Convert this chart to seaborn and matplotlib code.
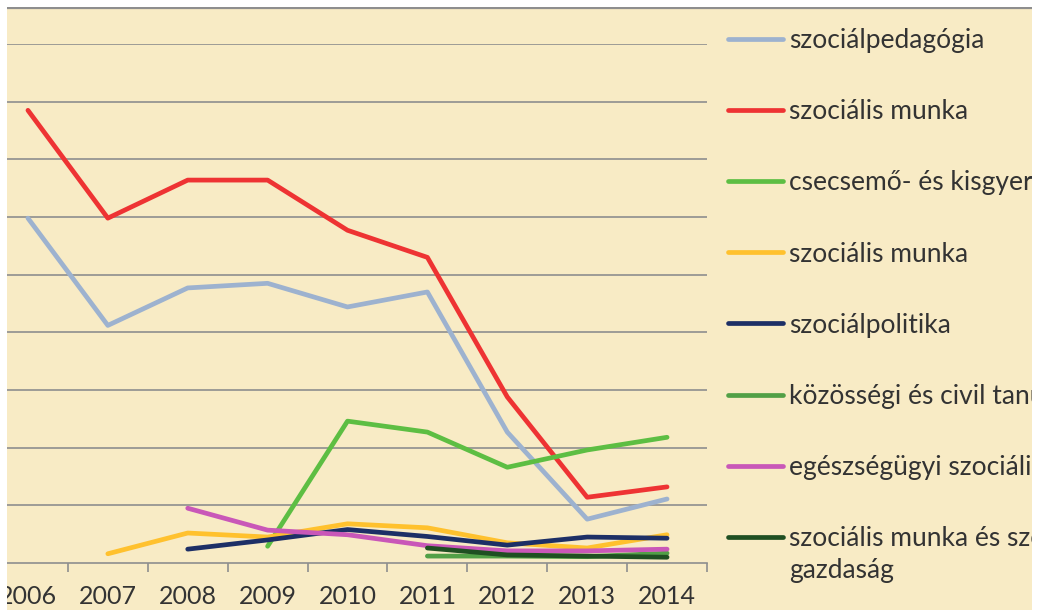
import numpy as np
import pandas as pd
import matplotlib
matplotlib.use("Agg")
import matplotlib.pyplot as plt
from matplotlib.patches import Rectangle
from matplotlib.lines import Line2D
import seaborn as sns

years = [2006, 2007, 2008, 2009, 2010, 2011, 2012, 2013, 2014]
nan = np.nan

szocpedagogia = [59.8, 41.2, 47.7, 48.5, 44.4, 47.0, 22.7, 7.6, 11.1]
szoc_munka = [78.5, 59.8, 66.4, 66.4, 57.7, 53.0, 28.8, 11.4, 13.2]
csecsemo = [nan, nan, nan, 2.9, 24.6, 22.7, 16.6, 19.6, 21.8]
szoc_munka_2 = [nan, 1.6, 5.2, 4.5, 6.8, 6.1, 3.5, 2.6, 4.9]
szocpolitika = [nan, nan, 2.4, 4.0, 5.8, 4.6, 3.1, 4.5, 4.3]
kozossegi = [nan, nan, nan, nan, nan, 1.2, 1.2, 1.1, 1.7]
egeszsegugyi = [nan, nan, 9.5, 5.7, 4.9, 3.0, 2.1, 2.1, 2.4]
szoc_gazdasag = [nan, nan, nan, nan, nan, 2.6, 1.4, 1.2, 1.0]

labels = [
    "szociálpedagógia",
    "szociális munka",
    "csecsemő- és kisgyermeknevelés",
    "szociális munka",
    "szociálpolitika",
    "közösségi és civil tanulmányok",
    "egészségügyi szociális munka",
    "szociális munka és szociális",
]
label_wrap = "gazdaság"   # second line of the last legend entry
series = [szocpedagogia, szoc_munka, csecsemo, szoc_munka_2,
          szocpolitika, kozossegi, egeszsegugyi, szoc_gazdasag]
colors = ["#9DB2CF", "#EE3333", "#5DBE43", "#FFC12E",
          "#1D2F66", "#52A047", "#C957B8", "#1F4F22"]

W, H = 1040, 610
cream = "#F8EBC5"
grey = "#8E8E8E"
txt = "#333333"

sns.set_style("white")
plt.rcParams["font.family"] = ["Lato", "DejaVu Sans"]

fig = plt.figure(figsize=(W / 100, H / 100), dpi=100, facecolor="white")

# chart area background + top border
fig.patches.append(Rectangle((7 / W, 0), (1032 - 7) / W, (H - 9) / H,
                             transform=fig.transFigure, facecolor=cream,
                             edgecolor="none", zorder=0))
fig.lines.append(Line2D([7 / W, 1032 / W], [1 - 8 / H, 1 - 8 / H],
                        transform=fig.transFigure, color=grey, lw=1.6, zorder=1))

ax = fig.add_axes([-12 / W, 1 - 563 / H, 719 / W, (563 - 44) / H])
ax.set_facecolor("none")
ax.set_zorder(2)

for vals, lab, col in zip(series, labels, colors):
    sns.lineplot(x=years, y=vals, color=col, lw=3.4, label=lab, ax=ax)

ax.set_xlim(2005.5, 2014.5)
ax.set_ylim(0, 90)
ax.set_yticks(np.arange(10, 91, 10))
ax.yaxis.grid(True, color=grey, lw=1.2)
ax.set_axisbelow(True)
ax.tick_params(axis="y", left=False, labelleft=False)
ax.set_xticks(years)
ax.set_xticklabels([str(y) for y in years])
ax.set_xticks(np.arange(2005.5, 2015, 1), minor=True)
ax.tick_params(axis="x", which="major", bottom=False, length=0, pad=16,
               labelsize=18, labelcolor=txt)
ax.tick_params(axis="x", which="minor", bottom=True, length=6.5, width=1.2,
               color=grey, direction="out")
for s in ["top", "right", "left"]:
    ax.spines[s].set_visible(False)
ax.spines["bottom"].set_color(grey)
ax.spines["bottom"].set_linewidth(1.2)
ax.set_xlabel("")
ax.set_ylabel("")

handles, labs = ax.get_legend_handles_labels()
ax.get_legend().remove()
leg = fig.legend(handles, labs, loc="upper left",
                 bbox_to_anchor=(728 / W, 1 - 28 / H), frameon=False,
                 fontsize=19, handlelength=2.1, handletextpad=0.22,
                 labelspacing=1.75, borderaxespad=0, borderpad=0)
leg.set_zorder(5)
for t in leg.get_texts():
    t.set_color(txt)
for h in leg.legend_handles:
    h.set_linewidth(3.4)

last = leg.get_texts()[-1]
fig.add_artist(plt.Annotation(label_wrap, xy=(0, 0), xycoords=last,
                              xytext=(0, -7), textcoords="offset pixels",
                              va="top", ha="left", fontsize=19, color=txt,
                              zorder=6))

# white edges of the cropped chart
fig.patches.append(Rectangle((0, 0), 7 / W, 1, transform=fig.transFigure,
                             facecolor="white", edgecolor="none", zorder=20))
fig.patches.append(Rectangle((1032 / W, 0), 8 / W, 1, transform=fig.transFigure,
                             facecolor="white", edgecolor="none", zorder=20))
fig.patches.append(Rectangle((0, 1 - 7 / H), 1, 7 / H, transform=fig.transFigure,
                             facecolor="white", edgecolor="none", zorder=20))

fig.savefig("out.png", dpi=100, facecolor="white")
